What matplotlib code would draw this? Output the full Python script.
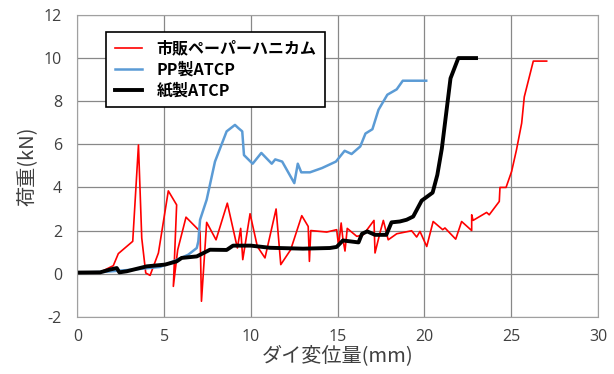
import numpy as np
import matplotlib
matplotlib.use("Agg")
import matplotlib.pyplot as plt

plt.rcParams['font.family'] = ['Noto Sans CJK JP', 'DejaVu Sans']
plt.rcParams['axes.unicode_minus'] = False

# 市販ペーパーハニカム
red_x = [0, 0.6, 1.3, 2.07, 2.36, 3.19, 3.52, 3.71, 3.94, 4.19, 4.67, 5.24, 5.72, 5.53,
         5.78, 6.26, 7.07, 7.15, 7.45, 7.99, 8.64, 9.22, 9.41, 9.53, 9.95, 10.37, 10.81,
         11.45, 11.72, 12.29, 12.93, 13.3, 13.37, 13.45, 14.37, 14.94, 15.05, 15.2, 15.3,
         15.42, 15.55, 16.1, 16.47, 17.09, 17.15, 17.44, 17.63, 17.91, 18.4, 19.26, 19.55,
         19.74, 20.13, 20.5, 21.05, 21.18, 21.8, 22.14, 22.72, 22.72, 22.8, 23.58, 23.73,
         24.31, 24.35, 24.7, 25.02, 25.3, 25.6, 25.75, 26.27, 27.04]
red_y = [0.05, 0.03, 0.06, 0.37, 0.93, 1.5, 5.97, 1.65, 0.03, -0.08, 0.96, 3.84, 3.19, -0.59,
         1.1, 2.62, 1.96, -1.28, 2.38, 1.57, 3.27, 1.19, 2.1, 0.65, 2.78, 1.26, 0.73,
         3.0, 0.42, 1.11, 2.69, 2.19, 0.57, 2.0, 1.93, 2.04, 1.3, 2.35, 1.6,
         1.05, 2.1, 1.73, 1.8, 2.47, 0.96, 1.91, 2.47, 1.57, 1.85, 1.99, 1.7,
         1.96, 1.26, 2.42, 2.04, 2.12, 1.6, 2.42, 2.0, 2.73, 2.47, 2.84, 2.73,
         3.35, 4.0, 4.0, 4.74, 5.74, 6.98, 8.2, 9.86, 9.86]

# PP製ATCP
blue_x = [0, 1.5, 3.23, 4.76, 5.53, 6.39, 6.88, 6.97, 7.07, 7.45, 7.93, 8.6, 9.08, 9.28,
          9.5, 9.6, 10.1, 10.6, 11.2, 11.4, 11.8, 12.5, 12.7, 12.9, 13.4, 14.1, 14.9,
          15.4, 15.8, 16.3, 16.6, 17.0, 17.35, 17.86, 18.4, 18.75, 20.1]
blue_y = [0.05, 0.08, 0.19, 0.31, 0.57, 0.88, 1.19, 1.5, 2.5, 3.43, 5.2, 6.6, 6.9, 6.75,
          6.6, 5.5, 5.1, 5.6, 5.1, 5.3, 5.2, 4.2, 5.1, 4.7, 4.7, 4.9, 5.2,
          5.7, 5.55, 5.9, 6.5, 6.7, 7.6, 8.3, 8.55, 8.95, 8.95]

# 紙製ATCP
black_x = [0, 1.31, 1.88, 2.27, 2.42, 2.84, 4.0, 5.05, 5.72, 6.01, 6.88, 7.64, 8.6, 8.97,
           10.0, 11.1, 13.0, 14.55, 14.94, 15.3, 16.2, 16.4, 16.7, 17.15, 17.8, 18.1,
           18.58, 18.97, 19.35, 19.84, 20.03, 20.47, 20.74, 21.0, 21.5, 21.95, 22.97]
black_y = [0.05, 0.06, 0.19, 0.26, 0.06, 0.11, 0.34, 0.42, 0.57, 0.73, 0.8, 1.11, 1.1, 1.3,
           1.3, 1.2, 1.16, 1.19, 1.24, 1.54, 1.45, 1.85, 1.96, 1.8, 1.8, 2.38,
           2.42, 2.5, 2.65, 3.39, 3.5, 3.76, 4.58, 5.8, 9.06, 10.0, 10.0]

fig = plt.figure(figsize=(6.14, 3.74), dpi=100)
ax = fig.add_axes([0.126, 0.153, 0.848, 0.807])

ax.plot(red_x, red_y, color='#ff0000', lw=1.2, label='市販ペーパーハニカム')
ax.plot(blue_x, blue_y, color='#5b9bd5', lw=1.8, label='PP製ATCP')
ax.plot(black_x, black_y, color='black', lw=2.8, label='紙製ATCP')

ax.set_xlim(0, 30)
ax.set_ylim(-2, 12)
ax.set_xticks(np.arange(0, 31, 5))
ax.set_yticks(np.arange(-2, 13, 2))
ax.grid(True, color='#888888', lw=0.9)
ax.set_axisbelow(True)
for s in ax.spines.values():
    s.set_color('#a0a0a0')
ax.tick_params(length=0, labelsize=11.5, labelcolor='#404040')
ax.tick_params(axis='x', pad=9)
ax.tick_params(axis='y', pad=11)
for lab in ax.get_xticklabels() + ax.get_yticklabels():
    lab.set_family(['Open Sans', 'DejaVu Sans'])

ax.set_xlabel('ダイ変位量(mm)', fontsize=14.5, color='#404040', labelpad=0)
ax.set_ylabel('荷重(kN)', fontsize=14.5, color='#404040', labelpad=4)

leg = ax.legend(loc='upper left', bbox_to_anchor=(0.055, 0.944), borderaxespad=0,
                fancybox=False, edgecolor='black', framealpha=1, handlelength=1.7,
                handletextpad=0.9, borderpad=0.55, labelspacing=0.3,
                prop={'weight': 'bold', 'size': 11.5})
leg.get_frame().set_linewidth(1.2)

fig.savefig('out.png', dpi=100)
